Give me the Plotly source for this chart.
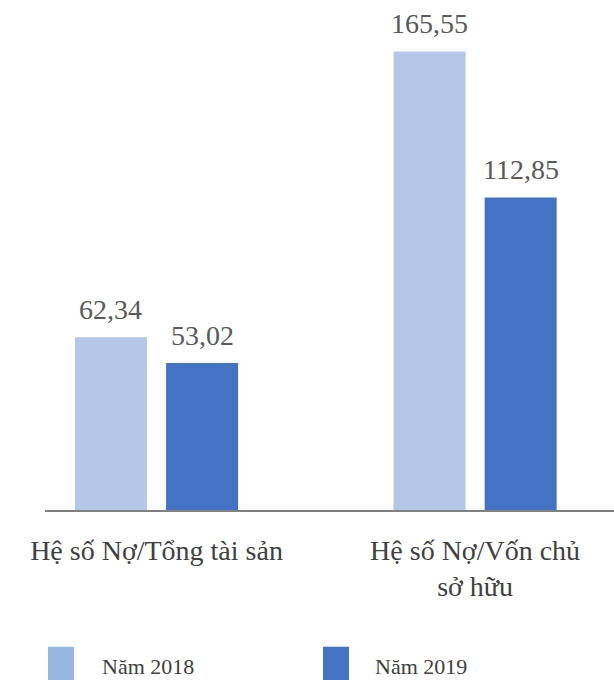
import plotly.graph_objects as go

categories = ["Hệ số Nợ/Tổng tài sản", "Hệ số Nợ/Vốn chủ<br>sở hữu"]
series_names = ["Năm 2018", "Năm 2019"]
values_2018 = [62.34, 165.55]
values_2019 = [53.02, 112.85]
bar_colors = ["#B4C7E7", "#4472C4"]
legend_colors = ["#95B7E0", "#4472C4"]

def fmt(v):
    return f"{v:.2f}".replace(".", ",")

FONT = "Liberation Serif"
xs = [0, 1]
bar_w = 0.226
offsets = [-0.256, 0.030]

fig = go.Figure()
for vals, col, off, name in zip([values_2018, values_2019], bar_colors, offsets, series_names):
    fig.add_trace(go.Bar(x=xs, y=vals, width=bar_w, offset=off, marker_color=col,
                         marker_line_width=0, name=name, showlegend=False))
    for x, v in zip(xs, vals):
        fig.add_annotation(x=x + off + bar_w / 2, y=v, text=fmt(v), showarrow=False,
                           yanchor="bottom", yshift=10,
                           font=dict(family=FONT, size=28, color="#595959"))

# legend built manually
leg_x = [(0.0053, 0.051), (0.4886, 0.5343)]
leg_tx = [0.0967, 0.5764]
for (x0, x1), tx, col, name in zip(leg_x, leg_tx, legend_colors, series_names):
    fig.add_shape(type="rect", xref="paper", yref="paper", x0=x0, x1=x1,
                  y0=-0.345, y1=-0.268, fillcolor=col, line_width=0)
    fig.add_annotation(xref="paper", yref="paper", x=tx, y=-0.307, text=name,
                       showarrow=False, xanchor="left", yanchor="middle",
                       font=dict(family=FONT, size=22, color="#404040"))

fig.update_layout(
    width=614, height=680,
    margin=dict(l=45, r=0, t=0, b=170),
    plot_bgcolor="white", paper_bgcolor="white",
    barmode="overlay",
    xaxis=dict(range=[-0.35, 1.436], tickmode="array", tickvals=xs, ticktext=categories,
               showline=True, linecolor="#808080", linewidth=2, showgrid=False,
               ticks="outside", ticklen=14, tickcolor="rgba(0,0,0,0)",
               tickfont=dict(family=FONT, size=28, color="#404040"), zeroline=False),
    yaxis=dict(range=[0, 184.1], visible=False, showgrid=False, zeroline=False),
)

fig.write_html("out.html")
